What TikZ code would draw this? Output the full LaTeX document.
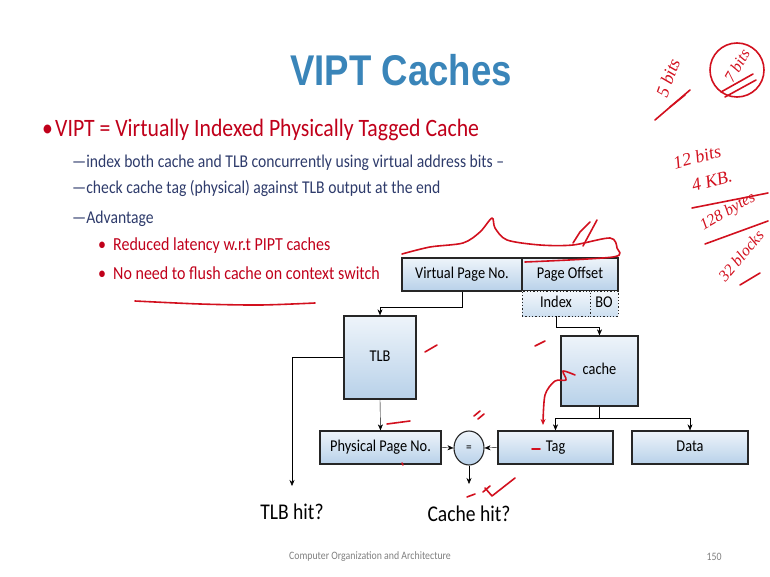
\documentclass[tikz,border=0pt]{standalone}
\usepackage{fontspec}
\setmainfont{Carlito}[FakeStretch=0.87]
\newfontfamily\titlefont{Liberation Sans}[FakeStretch=0.85]
\newfontfamily\handfont{Liberation Serif}
\usetikzlibrary{arrows.meta,shapes.geometric}
\definecolor{titleblue}{HTML}{3A85B9}
\definecolor{subblue}{HTML}{2E3B6B}
\definecolor{slidered}{HTML}{C0001A}
\definecolor{inkred}{HTML}{D2101E}
\definecolor{boxtop}{HTML}{EEF4FA}
\definecolor{boxbot}{HTML}{B8D1E9}
\newcommand{\fs}[1]{\fontsize{#1}{#1}\selectfont}
\tikzset{
  blk/.style={draw=black!85,line width=1.3pt,top color=boxtop,bottom color=boxbot,
    inner sep=0pt,text height=11pt,text depth=3.5pt,font=\fs{16.5}},
  dotblk/.style={blk,dotted,line width=0.9pt,top color=boxtop!70,bottom color=boxbot!70},
  ink/.style={draw=inkred,line width=1.6pt,line cap=round,line join=round},
  every path/.style={>={Stealth[length=6pt,width=5pt]}}
}
\begin{document}
\begin{tikzpicture}[x=1pt,y=-1pt]
\useasboundingbox (0,0) rectangle (770,577);
% text of the slide
\node (title) at (401,70) {\titlefont\bfseries\fs{43}\color{titleblue}VIPT Caches};
\node[anchor=base west,inner sep=0pt] (b1) at (42,137) {\fs{25}\color{slidered}•};
\node[anchor=base west,inner sep=0pt] (t1) at (55,137) {\fs{25}\color{slidered}VIPT = Virtually Indexed Physically Tagged Cache};
\node[anchor=base west,inner sep=0pt] (t2) at (72,168) {\fs{18}\color{subblue}—index both cache and TLB concurrently using virtual address bits –};
\node[anchor=base west,inner sep=0pt] (t3) at (72,194) {\fs{18}\color{subblue}—check cache tag (physical) against TLB output at the end};
\node[anchor=base west,inner sep=0pt] (t4) at (72,223) {\fs{18}\color{subblue}—Advantage};
\node[anchor=base west,inner sep=0pt] (b5) at (98,251) {\fs{18.4}\color{slidered}•};
\node[anchor=base west,inner sep=0pt] (t5) at (113,251) {\fs{18.4}\color{slidered}Reduced latency w.r.t PIPT caches};
\node[anchor=base west,inner sep=0pt] (b6) at (98,279) {\fs{18.4}\color{slidered}•};
\node[anchor=base west,inner sep=0pt] (t6) at (113,279) {\fs{18.4}\color{slidered}No need to flush cache on context switch};
\node[gray] (foot) at (370,557) {\fs{11.3}Computer Organization and Architecture};
\node[gray] (page) at (714,557) {\fs{11.3}150};
% address and blocks
\node[blk,minimum width=120pt,minimum height=33pt] (vpn) at (462,274.5) {Virtual Page No.};
\node[blk,minimum width=96pt,minimum height=33pt] (poff) at (570,274.5) {Page Offset};
\node[dotblk,minimum width=68pt,minimum height=25pt] (idx) at (556,303.5) {Index};
\node[dotblk,minimum width=28pt,minimum height=25pt] (bo) at (604,303.5) {BO};
\node[blk,minimum width=72pt,minimum height=83pt] (tlb) at (380,357.5) {TLB};
\node[blk,minimum width=77pt,minimum height=70pt] (cache) at (599.5,371) {cache};
\node[blk,minimum width=121pt,minimum height=33pt] (ppn) at (380.5,447.5) {Physical Page No.};
\node[blk,ellipse,line width=1.1pt,minimum width=30pt,minimum height=34pt,text height=7pt,text depth=0pt] (eq) at (469,448) {\fs{13}=};
\node[blk,minimum width=115pt,minimum height=33pt] (tag) at (555.5,447.5) {Tag};
\node[blk,minimum width=116pt,minimum height=33pt] (data) at (690,447.5) {Data};
\node (tlbhit) at (292,512) {\fs{22.5}TLB hit?};
\node (cachehit) at (469,514) {\fs{22.5}Cache hit?};
\coordinate (tlbout) at (292,486);
\coordinate (hitout) at (469,484);
% connectors
\draw[->] (vpn.south) -- ++(0,16) -| (tlb.north);
\draw[->] (tlb.west) -| (tlbout);
\draw[->] (tlb.south) -- (ppn.north);
\draw[->] (ppn.east) -- (eq.west);
\draw[->] (tag.west) -- (eq.east);
\draw[->] (eq.south) -- (hitout);
\draw[->] (idx.south) -- ++(0,11) -| (cache.north);
\draw (cache.south) -- ++(0,12) coordinate (split);
\draw[->] (split) -| (tag.north);
\draw[->] (split) -| (data.north);
% hand annotations
\draw[ink] plot[smooth] coordinates {(402,254) (430,247) (463,243) (480,232) (492,218) (495,228) (507,240) (540,245) (573,245) (610,238) (617,248) (613,257) (525,262)};
\draw[ink] (573,243) -- (580,232) -- (590,222) (583,246) -- (597,220);
\draw[ink] plot[smooth] coordinates {(135,301) (200,304) (260,305) (315,303)};
\draw[ink] (425,352) -- (437,345);
\draw[ink] (535,346) -- (545,341);
\draw[ink,->] plot[smooth] coordinates {(575,375) (563,371) (566,380) (555,381) (545,395) (543,425)};
\draw[ink] (387,424) -- (410,421);
\draw[ink] (474,416) -- (480,411) (478,419) -- (484,414);
\draw[ink] (532,449) -- (540,449);
\draw[ink] (402,463) -- (403,465);
\draw[ink] (467,497) -- (475,494) (485,488) -- (492,496) -- (515,478) (483,492) -- (490,486);
\draw[ink] (655,120) -- (690,90);
\draw[ink] (670,107) -- (685,95);
\node[inkred,rotate=70,inner sep=0pt] (h5) at (668,78) {\handfont\itshape\fs{18}5 bits};
\node[inkred,rotate=60,inner sep=0pt] (h7) at (737,66) {\handfont\itshape\fs{16}7 bits};
\draw[ink] (737,70) circle[radius=27];
\draw[ink] (721,92) -- (753,74) (725,97) -- (756,80);
\node[inkred,rotate=15,inner sep=0pt] (h12) at (697,157) {\handfont\itshape\fs{18}12 bits};
\node[inkred,rotate=15,inner sep=0pt] (h4) at (712,181) {\handfont\itshape\fs{18}4 KB.};
\draw[ink] (692,208) -- (768,193);
\node[inkred,rotate=30,inner sep=0pt] (h128) at (728,212) {\handfont\itshape\fs{16}128 bytes};
\draw[ink] (705,244) -- (768,221);
\node[inkred,rotate=50,inner sep=0pt] (h32) at (741,256) {\handfont\itshape\fs{16}32 blocks};
\draw[ink] (740,285) -- (760,273);
\end{tikzpicture}
\end{document}
